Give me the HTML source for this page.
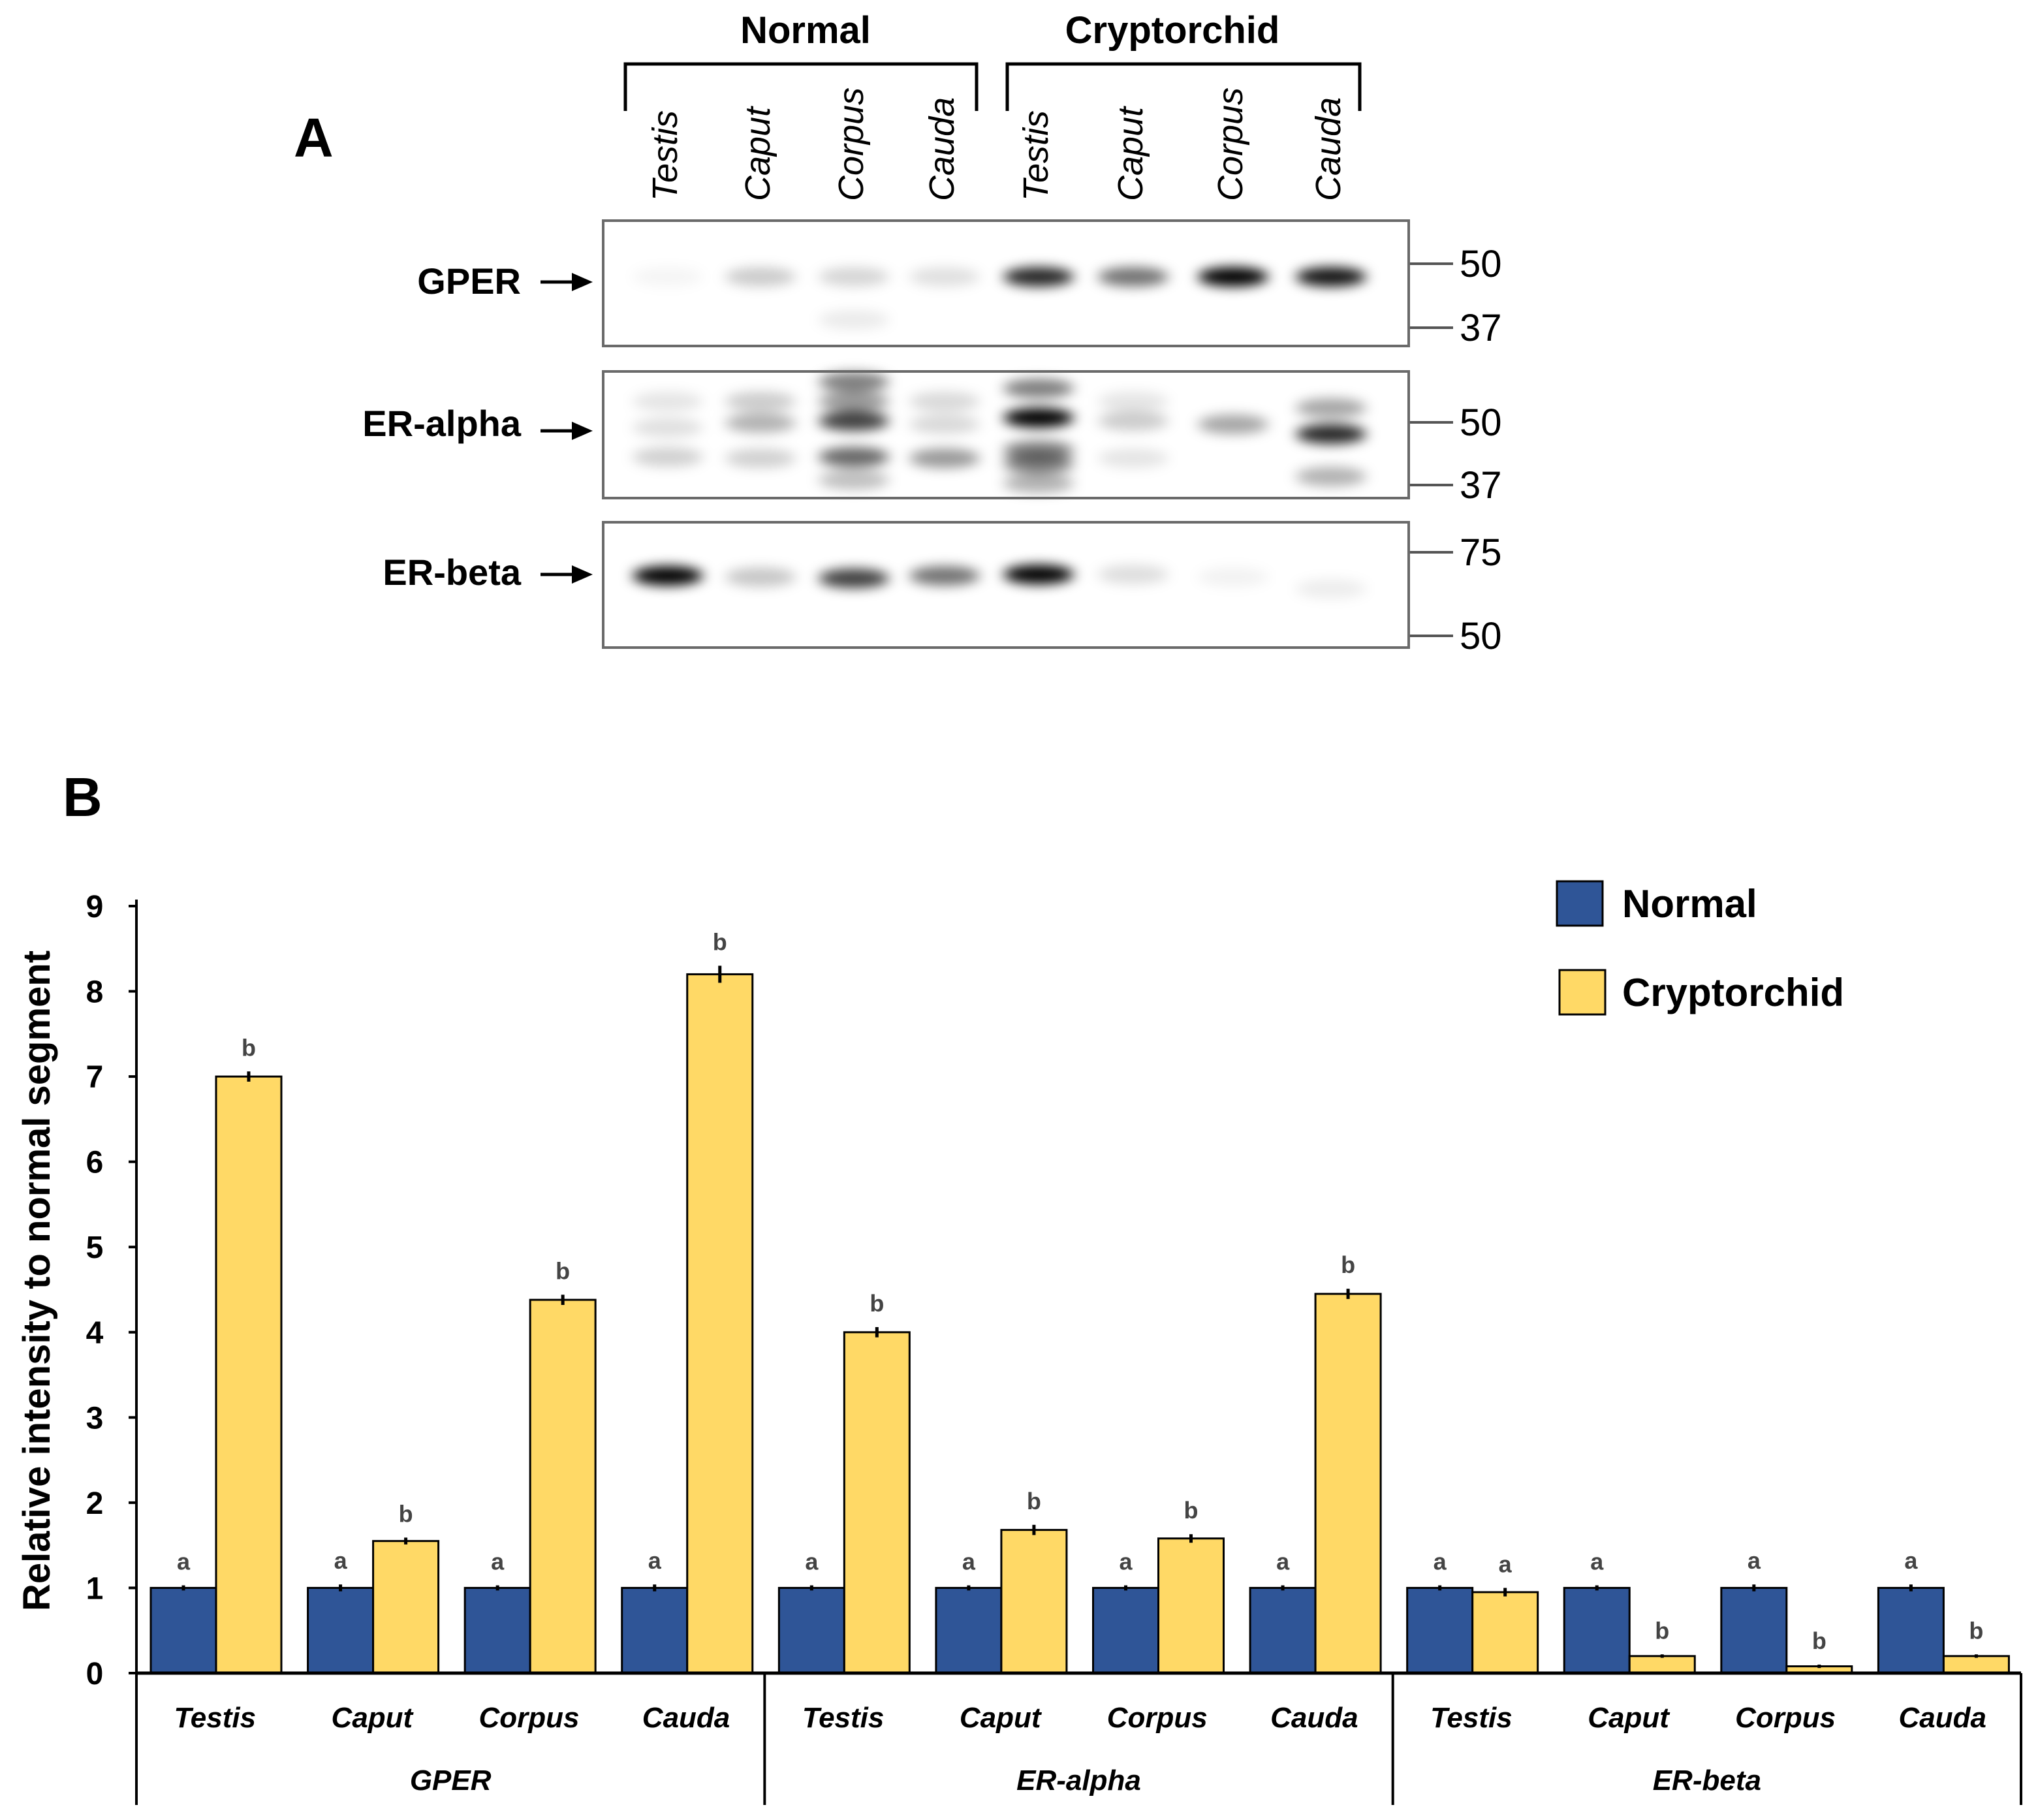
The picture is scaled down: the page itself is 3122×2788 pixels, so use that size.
<!DOCTYPE html>
<html><head><meta charset="utf-8"><style>
html,body{margin:0;padding:0;background:#fff}
svg{display:block}
text{font-family:"Liberation Sans","DejaVu Sans",sans-serif}
</style></head><body>
<svg id="fig" width="3122" height="2788" viewBox="0 0 3122 2788" xmlns="http://www.w3.org/2000/svg">
<defs>
<filter id="blur" x="-50%" y="-100%" width="200%" height="300%"><feGaussianBlur stdDeviation="10 9"/></filter>
</defs>
<g id="blot">
<text x="450" y="240" font-size="84" font-weight="bold">A</text>
<text x="1234" y="66" font-size="58" font-weight="bold" text-anchor="middle">Normal</text>
<text x="1796" y="66" font-size="58" font-weight="bold" text-anchor="middle">Cryptorchid</text>
<path d="M958 170 V98 H1496 V170" fill="none" stroke="#000" stroke-width="5"/>
<path d="M1543 170 V98 H2083 V170" fill="none" stroke="#000" stroke-width="5"/>
<g id="lanes"></g>
<g id="panels"></g>
</g>
<g id="chart"></g>
</svg>
<script>
const NS="http://www.w3.org/2000/svg";
function mk(tag,attrs,parent,txt){const e=document.createElementNS(NS,tag);for(const k in attrs)e.setAttribute(k,attrs[k]);if(txt!==undefined)e.textContent=txt;parent.appendChild(e);return e;}

/* ---- blot ---- */
const laneNames=["Testis","Caput","Corpus","Cauda","Testis","Caput","Corpus","Cauda"];
const laneX=[1019,1161,1304,1443,1587,1732,1885,2035];
const lanesG=document.getElementById('lanes');
laneNames.forEach((n,i)=>{
  const t=mk('text',{x:0,y:0,'font-size':54,'font-style':'italic',transform:`translate(${laneX[i]+18},308) rotate(-90)`},lanesG,n);
  
  
});
const panelsG=document.getElementById('panels');
const panels=[
 {name:'GPER',y0:338,y1:530,labelY:450,arrowY:432,marks:[["50",404],["37",502]],
  bands:[[[424,0.04]],[[424,0.2]],[[424,0.16],[490,0.08]],[[424,0.12]],[[424,0.85]],[[424,0.55]],[[424,1]],[[424,0.92]]]},
 {name:'ER-alpha',y0:569,y1:763,labelY:668,arrowY:660,marks:[["50",647],["37",743]],
  bands:[[[615,0.1],[655,0.12],[700,0.18]],[[615,0.2],[648,0.3],[702,0.18]],[[585,0.5],[615,0.4],[645,0.75],[700,0.6],[735,0.25]],[[615,0.15],[650,0.15],[702,0.4]],[[595,0.5],[640,1],[690,0.5],[710,0.5],[740,0.3]],[[615,0.1],[645,0.2],[702,0.1]],[[650,0.35]],[[625,0.35],[665,0.85],[730,0.3]]]},
 {name:'ER-beta',y0:800,y1:992,labelY:896,arrowY:880,marks:[["75",846],["50",974]],
  bands:[[[882,1]],[[884,0.22]],[[886,0.75]],[[882,0.55]],[[880,1]],[[880,0.13]],[[884,0.05]],[[902,0.07]]]}
];
panels.forEach(p=>{
  const g=mk('g',{},panelsG);
  
  
  const bg=mk('g',{filter:'url(#blur)'},g);
  p.bands.forEach((lane,i)=>lane.forEach(b=>{
    mk('ellipse',{cx:laneX[i]+4,cy:b[0],rx:54,ry:15,fill:'#000','fill-opacity':b[1]},bg);
  }));
  const r=mk('rect',{x:924,y:p.y0,width:1234,height:p.y1-p.y0,fill:'none',stroke:'#6a6a6a','stroke-width':4},g);
  
  
  const lt=mk('text',{x:798,y:p.labelY,'font-size':56,'font-weight':'bold','text-anchor':'end'},g,p.name);
  
  
  mk('line',{x1:828,y1:p.arrowY,x2:880,y2:p.arrowY,stroke:'#000','stroke-width':5},g);
  mk('path',{d:`M908 ${p.arrowY} L876 ${p.arrowY-14} L876 ${p.arrowY+14}Z`,fill:'#000'},g);
  p.marks.forEach(m=>{
    mk('line',{x1:2160,y1:m[1],x2:2226,y2:m[1],stroke:'#555','stroke-width':4},g);
    const mt=mk('text',{x:2236,y:m[1]+20,'font-size':58},g,m[0]);
    
    
  });
});

/* ---- chart data ---- */
const groups=["GPER","ER-alpha","ER-beta"];
const segments=["Testis","Caput","Corpus","Cauda"];
const normalVals=[1,1,1,1,1,1,1,1,1,1,1,1];
const cryptoVals=[7.0,1.55,4.38,8.2,4.0,1.68,1.58,4.45,0.95,0.2,0.08,0.2];
const normalErr=[0.03,0.04,0.03,0.04,0.03,0.03,0.03,0.03,0.03,0.03,0.04,0.04];
const cryptoErr=[0.06,0.04,0.06,0.1,0.06,0.06,0.05,0.06,0.05,0.02,0.02,0.02];
const normalLetters=["a","a","a","a","a","a","a","a","a","a","a","a"];
const cryptoLetters=["b","b","b","b","b","b","b","b","a","b","b","b"];
const yTicks=[0,1,2,3,4,5,6,7,8,9];

/* ---- chart geometry ---- */
const X0=209,X1=3096,Y0=2563,YMAX=9,Y9=1388;
const nCat=groups.length*segments.length;
const slot=(X1-X0)/nCat;
const yS=v=>Y0-(Y0-Y9)*v/YMAX;
const xS=i=>X0+i*slot;
const BW=100, OFF=22;
const C=document.getElementById('chart');

const pl=mk('text',{x:96,y:1250,'font-size':84,'font-weight':'bold'},C,'B');



const yt=mk('text',{x:0,y:0,'font-size':58,'font-weight':'bold','text-anchor':'middle',transform:`translate(76,1962) rotate(-90)`},C,'Relative intensity to normal segment');



yTicks.forEach(t=>{
  const y=yS(t);
  mk('line',{x1:X0-12,y1:y,x2:X0,y2:y,stroke:'#000','stroke-width':4},C);
  const tl=mk('text',{x:X0-64,y:y+17,'font-size':48,'font-weight':'bold','text-anchor':'middle'},C,String(t));
  
  
});

function bar(i,v,e,letter,dx,fill,name){
  const x=xS(i)+OFF+dx, top=yS(v);
  const r=mk('rect',{x:x,y:top,width:BW,height:Y0-top,fill:fill,stroke:'#000','stroke-width':3},C);
  
  
  const cx=x+BW/2;
  mk('line',{x1:cx,y1:yS(v+e),x2:cx,y2:yS(v-e),stroke:'#000','stroke-width':5},C);
  const l=mk('text',{x:cx,y:yS(v+e)-24,'font-size':36,'font-weight':'bold',fill:'#444','text-anchor':'middle'},C,letter);
  
  
}
for(let i=0;i<nCat;i++){
  bar(i,normalVals[i],normalErr[i],normalLetters[i],0,'#2F5597','bar-normal-'+i);
  bar(i,cryptoVals[i],cryptoErr[i],cryptoLetters[i],BW,'#FFD966','bar-cryptorchid-'+i);
  const cl=mk('text',{x:xS(i)+slot/2,y:2646,'font-size':44,'font-weight':'bold','font-style':'italic','text-anchor':'middle'},C,segments[i%4]);
  
  
}
mk('line',{x1:X0,y1:Y9-10,x2:X0,y2:Y0,stroke:'#000','stroke-width':4},C);
mk('line',{x1:X0,y1:Y0,x2:X1,y2:Y0,stroke:'#000','stroke-width':5},C);
for(let g=0;g<=groups.length;g++){
  mk('line',{x1:xS(g*4),y1:Y0,x2:xS(g*4),y2:2765,stroke:'#000','stroke-width':4},C);
}
groups.forEach((g,k)=>{
  const gl=mk('text',{x:xS(k*4+2),y:2742,'font-size':44,'font-weight':'bold','font-style':'italic','text-anchor':'middle'},C,g);
  
  
});

/* legend */
const lg=mk('g',{},C);


const s1=mk('rect',{x:2385,y:1350,width:70,height:68,fill:'#2F5597',stroke:'#000','stroke-width':3},lg);


const t1=mk('text',{x:2485,y:1405,'font-size':60,'font-weight':'bold'},lg,'Normal');


const s2=mk('rect',{x:2389,y:1486,width:70,height:68,fill:'#FFD966',stroke:'#000','stroke-width':3},lg);


const t2=mk('text',{x:2485,y:1541,'font-size':60,'font-weight':'bold'},lg,'Cryptorchid');


</script>
</body></html>
